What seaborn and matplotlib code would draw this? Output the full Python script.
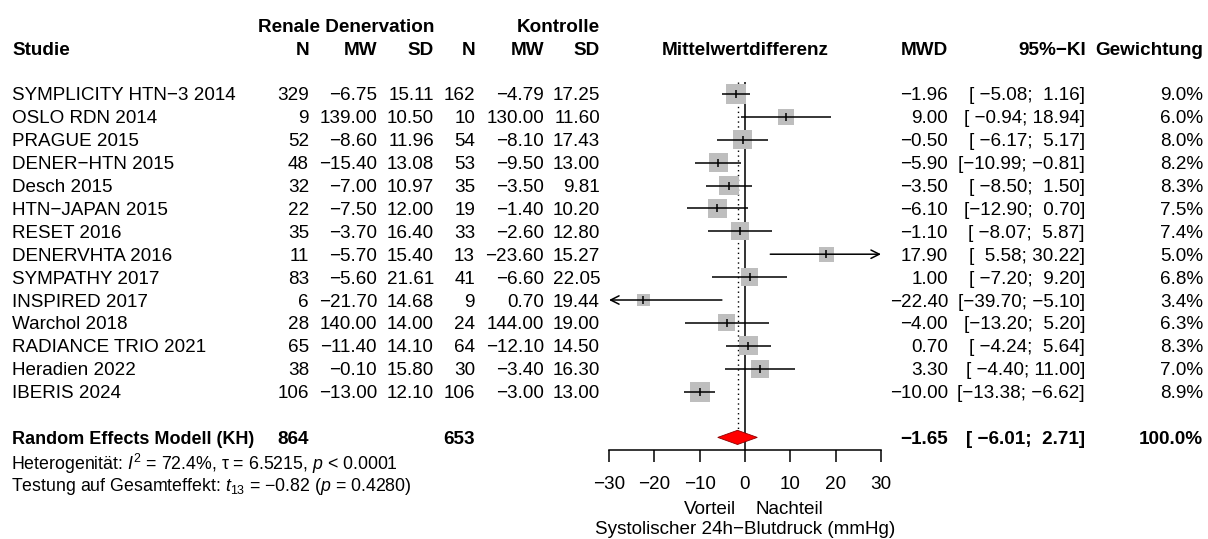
import matplotlib
matplotlib.use("Agg")
import matplotlib.pyplot as plt
import matplotlib.transforms as mtransforms
import pandas as pd
import seaborn as sns

# study data
studies = ["SYMPLICITY HTN\u22123 2014", "OSLO RDN 2014", "PRAGUE 2015", "DENER\u2212HTN 2015",
           "Desch 2015", "HTN\u2212JAPAN 2015", "RESET 2016", "DENERVHTA 2016", "SYMPATHY 2017",
           "INSPIRED 2017", "Warchol 2018", "RADIANCE TRIO 2021", "Heradien 2022", "IBERIS 2024"]
n_rdn = [329, 9, 52, 48, 32, 22, 35, 11, 83, 6, 28, 65, 38, 106]
mw_rdn = [-6.75, 139.00, -8.60, -15.40, -7.00, -7.50, -3.70, -5.70, -5.60, -21.70, 140.00, -11.40, -0.10, -13.00]
sd_rdn = [15.11, 10.50, 11.96, 13.08, 10.97, 12.00, 16.40, 15.40, 21.61, 14.68, 14.00, 14.10, 15.80, 12.10]
n_ctrl = [162, 10, 54, 53, 35, 19, 33, 13, 41, 9, 24, 64, 30, 106]
mw_ctrl = [-4.79, 130.00, -8.10, -9.50, -3.50, -1.40, -2.60, -23.60, -6.60, 0.70, 144.00, -12.10, -3.40, -3.00]
sd_ctrl = [17.25, 11.60, 17.43, 13.00, 9.81, 10.20, 12.80, 15.27, 22.05, 19.44, 19.00, 14.50, 16.30, 13.00]
mwd = [-1.96, 9.00, -0.50, -5.90, -3.50, -6.10, -1.10, 17.90, 1.00, -22.40, -4.00, 0.70, 3.30, -10.00]
ci_lower = [-5.08, -0.94, -6.17, -10.99, -8.50, -12.90, -8.07, 5.58, -7.20, -39.70, -13.20, -4.24, -4.40, -13.38]
ci_upper = [1.16, 18.94, 5.17, -0.81, 1.50, 0.70, 5.87, 30.22, 9.20, -5.10, 5.20, 5.64, 11.00, -6.62]
weight = [9.0, 6.0, 8.0, 8.2, 8.3, 7.5, 7.4, 5.0, 6.8, 3.4, 6.3, 8.3, 7.0, 8.9]

pooled_n_rdn = 864
pooled_n_ctrl = 653
pooled_mwd = -1.65
pooled_lower = -6.01
pooled_upper = 2.71
x_ticks = [-30, -20, -10, 0, 10, 20, 30]

het_text = "Heterogenit\u00e4t: $I^2$ = 72.4%, \u03c4 = 6.5215, $p$ < 0.0001"
test_text = "Testung auf Gesamteffekt: $t_{13}$ = \u22120.82 ($p$ = 0.4280)"

df = pd.DataFrame({"study": studies, "mwd": mwd, "lo": ci_lower, "hi": ci_upper, "w": weight})
df["row"] = range(len(df))


def fmt(v, d=2, width=0):
    return f"{v:{width}.{d}f}".replace("-", "\u2212")


def fmt_ci(lo, hi):
    return "[" + fmt(lo, width=6) + "; " + fmt(hi, width=5) + "]"


sns.set_theme(style="white")
plt.rcParams["font.family"] = ["Liberation Sans", "DejaVu Sans"]
plt.rcParams["mathtext.fontset"] = "custom"
plt.rcParams["mathtext.rm"] = "Liberation Sans"
plt.rcParams["mathtext.it"] = "Liberation Sans:italic"
plt.rcParams["text.color"] = "black"
plt.rcParams["xtick.color"] = "black"

W, H = 1208, 539
fs = 13.6
fig = plt.figure(figsize=(W / 100, H / 100), dpi=100)
ax = fig.add_axes([609 / W, 1 - 450 / H, 272 / W, 368 / H])
xmin, xmax = x_ticks[0], x_ticks[-1]
ax.set_xlim(xmin, xmax)
ax.set_ylim(15.55, -0.52)

# boxes (area proportional to weight)
sns.scatterplot(data=df, x="mwd", y="row", size="w", sizes=(0, 2330), size_norm=(0, 100),
                marker="s", color="#BEBEBE", linewidth=0, legend=False, ax=ax, zorder=2)

# confidence intervals, arrows where clipped
arrow = dict(arrowstyle="->,head_length=0.5,head_width=0.25", lw=1.1, color="black",
             shrinkA=0, shrinkB=0)
for _, r in df.iterrows():
    lo = max(r["lo"], xmin)
    hi = min(r["hi"], xmax)
    if r["hi"] > xmax:
        ax.annotate("", xy=(hi, r["row"]), xytext=(lo, r["row"]), arrowprops=arrow, zorder=3)
    elif r["lo"] < xmin:
        ax.annotate("", xy=(lo, r["row"]), xytext=(hi, r["row"]), arrowprops=arrow, zorder=3)
    else:
        ax.hlines(r["row"], lo, hi, color="black", lw=1.1, zorder=3)
ax.scatter(df["mwd"], df["row"], marker="|", s=28, color="black", linewidths=1.1, zorder=4)

# pooled diamond and reference lines
summary_row = len(df) + 1
dh = 0.31
ax.fill([pooled_lower, pooled_mwd, pooled_upper, pooled_mwd],
        [summary_row, summary_row - dh, summary_row, summary_row + dh],
        facecolor="red", edgecolor="#8b0000", lw=0.6, zorder=3)
ax.axvline(0, color="#333333", lw=1.4, zorder=1)
ax.vlines(pooled_mwd, -0.52, summary_row - dh, color="black", lw=1.0, linestyles=(0, (1, 2.5)), zorder=1)

for s in ["top", "left", "right"]:
    ax.spines[s].set_visible(False)
ax.spines["bottom"].set_color("black")
ax.spines["bottom"].set_linewidth(1.1)
ax.set_yticks([])
ax.set_xticks(x_ticks)
ax.set_xticklabels([fmt(t, 0) for t in x_ticks])
ax.tick_params(axis="x", direction="out", length=8.6, width=1.1, color="black",
               labelcolor="black", labelsize=fs, pad=10, bottom=True)
ax.set_xlabel("")
ax.set_ylabel("")

# text columns
rowtf = mtransforms.blended_transform_factory(fig.transFigure, ax.transData)


def put(px, row, txt, ha="right", bold=False, size=fs):
    fig.text(px / W, row, txt, transform=rowtf, ha=ha, va="center_baseline",
             fontsize=size, fontweight="bold" if bold else "normal", color="black")


put(434, -3, "Renale Denervation", bold=True)
put(600, -3, "Kontrolle", bold=True)
put(12, -2, "Studie", ha="left", bold=True)
for px, lab in [(309, "N"), (377, "MW"), (434, "SD"), (475, "N"), (544, "MW"), (600, "SD"),
                (948, "MWD"), (1086, "95%\u2212KI"), (1203, "Gewichtung")]:
    put(px, -2, lab, bold=True)
ax.text((xmin + xmax) / 2, -2, "Mittelwertdifferenz", ha="center", va="center_baseline",
        fontsize=fs, fontweight="bold", color="black", clip_on=False)

for i in range(len(studies)):
    put(12, i, studies[i], ha="left")
    put(309, i, str(n_rdn[i]))
    put(377, i, fmt(mw_rdn[i]))
    put(434, i, fmt(sd_rdn[i]))
    put(475, i, str(n_ctrl[i]))
    put(544, i, fmt(mw_ctrl[i]))
    put(600, i, fmt(sd_ctrl[i]))
    put(948, i, fmt(mwd[i]))
    put(1085, i, fmt_ci(ci_lower[i], ci_upper[i]))
    put(1203, i, fmt(weight[i], 1) + "%")

put(12, summary_row, "Random Effects Modell (KH)", ha="left", bold=True, size=13)
put(309, summary_row, str(pooled_n_rdn), bold=True)
put(475, summary_row, str(pooled_n_ctrl), bold=True)
put(948, summary_row, fmt(pooled_mwd), bold=True)
put(1085, summary_row, fmt_ci(pooled_lower, pooled_upper), bold=True)
put(1203, summary_row, "100.0%", bold=True)
put(11, summary_row + 1.05, het_text, ha="left", size=12.8)
put(11, summary_row + 2, test_text, ha="left", size=12.8)

# labels under the axis
bottf = mtransforms.blended_transform_factory(ax.transData, fig.transFigure)
off_l = mtransforms.ScaledTranslation(-8.6 / 100, 0, fig.dpi_scale_trans)
off_r = mtransforms.ScaledTranslation(10.7 / 100, 0, fig.dpi_scale_trans)
fig.text(0, 1 - 507 / H, "Vorteil", transform=bottf + off_l, ha="right", va="center_baseline", fontsize=fs)
fig.text(0, 1 - 507 / H, "Nachteil", transform=bottf + off_r, ha="left", va="center_baseline", fontsize=fs)
fig.text(0, 1 - 528 / H, "Systolischer 24h\u2212Blutdruck (mmHg)", transform=bottf,
         ha="center", va="center_baseline", fontsize=fs)

fig.savefig("out.png", dpi=100)
